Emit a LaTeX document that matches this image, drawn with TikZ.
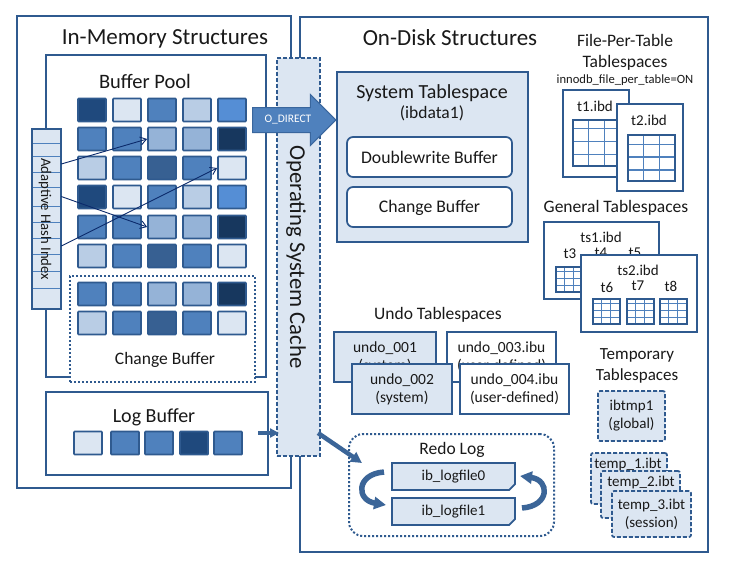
\documentclass[tikz,border=0pt]{standalone}
\usepackage{fontspec}
\setmainfont{Carlito}
\usetikzlibrary{%
  arrows.meta,%
  shapes.misc,% wg. chamfered rectangle
  shapes.arrows,%
  calc,%
  positioning%
}
\definecolor{linecol}{HTML}{2F5A8F}
\definecolor{pglight}{HTML}{DCE6F2}
\definecolor{pgsoft}{HTML}{B9CDE5}
\definecolor{pgpale}{HTML}{95B3D7}
\definecolor{pgmid}{HTML}{4F81BD}
\definecolor{pgbright}{HTML}{558ED5}
\definecolor{pgdeep}{HTML}{376092}
\definecolor{pgdark}{HTML}{1F497D}
\definecolor{pgnavy}{HTML}{17375E}
\definecolor{linkcol}{HTML}{0B2A6B}

\begin{document}
\begin{tikzpicture}
[x=1pt, y=-1pt, line width=1.75pt,
txt/.style={font=\fontsize{#1}{18}\selectfont, inner sep=0pt, align=center, text=black!90},
box/.style={rectangle, draw=linecol, fill=white, inner sep=0pt},
lbox/.style={box, fill=pglight},
dashbox/.style={lbox, dash pattern=on 4pt off 2pt},
dashround/.style={dashbox, rounded corners=2pt},
dotbox/.style={box, line width=2pt, dash pattern=on 2pt off 2pt},
rbox/.style={box, rounded corners=6pt},
page/.style={rectangle, draw=linecol, inner sep=0pt, rounded corners=0.75pt, minimum width=28pt, minimum height=23pt},
hcell/.style={rectangle, draw=pgmid, fill=pglight, line width=0.6pt, inner sep=0pt, minimum width=29pt},
logfile/.style={chamfered rectangle, chamfered rectangle corners=south east, chamfered rectangle xsep=3pt, chamfered rectangle ysep=3pt,
  draw=linecol, fill=pglight, inner sep=0pt, minimum width=123pt, minimum height=27pt},
tablegrid/.style={rectangle, draw=linecol, line width=2pt, fill=white, inner sep=0pt, path picture={
  \foreach \f in {0.33,0.67}
    \draw[pgmid, line width=1.3pt] ($(path picture bounding box.north west)!\f!(path picture bounding box.north east)$) -- ($(path picture bounding box.south west)!\f!(path picture bounding box.south east)$);
  \foreach \f in {0.2,0.48,0.76}
    \draw[pgmid, line width=1.3pt] ($(path picture bounding box.north west)!\f!(path picture bounding box.south west)$) -- ($(path picture bounding box.north east)!\f!(path picture bounding box.south east)$);
}},
bigtable/.style={tablegrid, minimum width=47pt, minimum height=46pt},
minitable/.style={tablegrid, minimum width=27pt, minimum height=25pt},
link/.style={->, >={Straight Barb[length=6pt,width=8pt]}, linkcol, line width=0.9pt},
blockline/.style={-{Triangle[length=#1,width=#1]}, pgdeep!85!pgmid},
]
\useasboundingbox (0,0) rectangle (733,574);

% main frames
\node[box, minimum width=274pt, minimum height=472pt] (inmemory) at (154,252) {};
\node[box, minimum width=408pt, minimum height=535pt] (ondisk) at (504,284.5) {};
\node[txt=23] (inmemorytitle) at (165,39) {In-Memory Structures};
\node[txt=23] (ondisktitle) at (450,38) {On-Disk Structures};

% buffer pool
\node[box, minimum width=220pt, minimum height=322pt] (bufferpool) at (156,216) {};
\node[txt=20.5] (buffertitle) at (145,81) {Buffer Pool};
\foreach \r/\y/\clist in {1/110/{pgdark,pglight,pgmid,pgsoft,pgbright},
                          2/139/{pgmid,pgmid,pgpale,pgpale,pgnavy},
                          3/168/{pgsoft,pgmid,pgdeep,pgmid,pglight},
                          4/197/{pgdark,pglight,pgmid,pgsoft,pgbright},
                          5/227/{pgmid,pgmid,pgpale,pgpale,pgnavy},
                          6/256/{pgsoft,pgmid,pgdeep,pgmid,pglight}} {
  \foreach \c [count=\k] in \clist
    \node[page, fill=\c] (pg\r-\k) at ({57+35*\k},\y) {};
}

% change buffer inside the pool
\node[dotbox, minimum width=185pt, minimum height=106pt] (changebox) at (162.5,329) {};
\foreach \r/\y/\clist in {7/294/{pgmid,pgmid,pgpale,pgpale,pgnavy},
                          8/323/{pgsoft,pgmid,pgdeep,pgmid,pglight}} {
  \foreach \c [count=\k] in \clist
    \node[page, fill=\c] (pg\r-\k) at ({57+35*\k},\y) {};
}
\node[txt=17.5] (changetitle) at (165,360) {Change Buffer};

% adaptive hash index
\foreach \k/\y/\h in {1/136/14,2/149.5/13,3/164/16,4/179.5/15,5/196.5/19,6/214/16,7/230/16,8/246/16,9/262.5/17,10/279.5/17,11/298.5/21}
  \node[hcell, minimum height=\h pt] (hash\k) at (46.5,\y) {};
\node[rectangle, draw=linecol, inner sep=0pt, minimum width=29pt, minimum height=180pt] (hashbox) at (46.5,219) {};
\node[txt=14.7, rotate=-90] (hashtitle) at (45,219) {Adaptive Hash Index};

% log buffer
\node[box, minimum width=222pt, minimum height=83pt] (logbuffer) at (157,433.5) {};
\node[txt=20] (logtitle) at (154,417) {Log Buffer};
\foreach \k/\x/\c in {1/88/pglight,2/125/pgmid,3/159/pgmid,4/194/pgdark,5/228/pgmid}
  \node[page, fill=\c] (log\k) at (\x,443) {};

% operating system cache
\node[dashbox, minimum width=43pt, minimum height=398pt] (oscache) at (298.5,257) {};
\node[txt=22.7, rotate=-90] (ostitle) at (296,257) {Operating System Cache};

% system tablespace
\node[lbox, minimum width=191pt, minimum height=170pt] (systemts) at (432.5,157) {};
\node[txt=20] (systemtitle) at (432,93) {System Tablespace};
\node[txt=17.5] (ibdata) at (432,113) {(ibdata1)};
\node[rbox, minimum width=165pt, minimum height=40pt, txt=17.7] (doublewrite) at (429.5,157) {Doublewrite Buffer};
\node[rbox, minimum width=165pt, minimum height=40pt, txt=17.7, text depth=1pt] (changets) at (429.5,207) {Change Buffer};

% o_direct arrow
\node[single arrow, single arrow head extend=13pt, draw=linecol!70!pgmid, fill=pgmid, line width=1pt,
  font=\fontsize{11.5}{12}\selectfont, text=white, inner xsep=11.5pt, inner ysep=7.5pt,
  minimum width=51pt, minimum height=81pt, anchor=tail] (odirect) at (252,120) {O\_DIRECT};

% file per table
\node[txt=17.5] (fileperlabel) at (625,52) {File-Per-Table\\[3pt]Tablespaces};
\node[txt=12.6] (fileperoption) at (625,80) {innodb\_file\_per\_table=ON};
\node[box, minimum width=66pt, minimum height=87pt] (t1) at (596,133.5) {};
\node[txt=15] (t1title) at (595,106) {t1.ibd};
\node[bigtable] (t1table) at (596.5,142.5) {};
\node[box, minimum width=66pt, minimum height=87pt] (t2) at (650,147.5) {};
\node[txt=15] (t2title) at (649,120) {t2.ibd};
\node[bigtable] (t2table) at (651.5,158) {};

% general tablespaces
\node[txt=17.5] (generallabel) at (616,208) {General Tablespaces};
\node[box, minimum width=115pt, minimum height=77pt] (ts1) at (601.5,260.5) {};
\node[txt=15] (ts1title) at (601,237) {ts1.ibd};
\node[txt=15] (t3title) at (570,254) {t3};
\node[txt=15] (t4title) at (601,253) {t4};
\node[txt=15] (t5title) at (635,253) {t5};
\node[minitable] (t3table) at (569,279) {};
\node[box, minimum width=116pt, minimum height=77pt] (ts2) at (639,293.5) {};
\node[txt=15] (ts2title) at (638,270) {ts2.ibd};
\node[txt=15] (t6title) at (607,287) {t6};
\node[txt=15] (t7title) at (638,286) {t7};
\node[txt=15] (t8title) at (671,286) {t8};
\node[minitable] (t6table) at (606,311) {};
\node[minitable] (t7table) at (640,311) {};
\node[minitable] (t8table) at (673,311) {};

% undo tablespaces
\node[txt=17.5] (undolabel) at (438,315) {Undo Tablespaces};
\node[lbox, txt=15.5, minimum width=102pt, minimum height=50pt] (undo1) at (385,357) {undo\_001\\(system)};
\node[box, txt=15.5, minimum width=109pt, minimum height=50pt] (undo3) at (501.5,357) {undo\_003.ibu\\(user-defined)};
\node[lbox, txt=15.5, minimum width=100pt, minimum height=50pt] (undo2) at (402,389) {undo\_002\\(system)};
\node[box, txt=15.5, minimum width=109pt, minimum height=50pt] (undo4) at (514.5,389) {undo\_004.ibu\\(user-defined)};

% redo log
\node[dotbox, rounded corners=14pt, minimum width=205pt, minimum height=102pt] (redolog) at (451.5,485) {};
\node[txt=17.5] (redotitle) at (452,450) {Redo Log};
\node[logfile, txt=15] (logfile0) at (453.5,476.5) {ib\_logfile0};
\node[logfile, txt=15] (logfile1) at (453.5,511.5) {ib\_logfile1};
\coordinate (loopa) at (384,472);
\coordinate (loopb) at (386,505);
\coordinate (loopc) at (522,508);
\coordinate (loopd) at (520,476);
\draw[blockline=12pt, line width=5.5pt] (loopa) .. controls (356,474) and (356,500) .. (loopb);
\draw[blockline=12pt, line width=5.5pt] (loopc) .. controls (550,506) and (550,480) .. (loopd);

% connectors
\draw[link] (hash3.east) -- (pg2-3.west);
\draw[link] (hash5.east) -- (pg5-3.west);
\draw[link] (hash8.east) -- (pg3-5.west);
\coordinate (logout) at (258,433);
\coordinate (login) at (279,433);
\draw[blockline=9pt, line width=4pt] (logout) -- (login);
\coordinate (cacheout) at (318,433);
\coordinate (redoin) at (362,463);
\draw[blockline=11pt, line width=4.5pt] (cacheout) -- (redoin);

% temporary tablespaces
\node[txt=17] (templabel) at (637,366) {Temporary\\[3pt]Tablespaces};
\node[dashround, txt=15, minimum width=67pt, minimum height=50pt] (ibtmp) at (631.5,416) {ibtmp1\\(global)};
\node[dashround, minimum width=76pt, minimum height=51pt] (temp1) at (629,478.5) {};
\node[txt=15] (temp1title) at (628,464) {temp\_1.ibt};
\node[dashround, minimum width=79pt, minimum height=47pt] (temp2) at (640.5,494.5) {};
\node[txt=15] (temp2title) at (641,482) {temp\_2.ibt};
\node[dashround, txt=15, minimum width=79pt, minimum height=46pt] (temp3) at (651.5,514) {temp\_3.ibt\\(session)};
\end{tikzpicture}
\end{document}
